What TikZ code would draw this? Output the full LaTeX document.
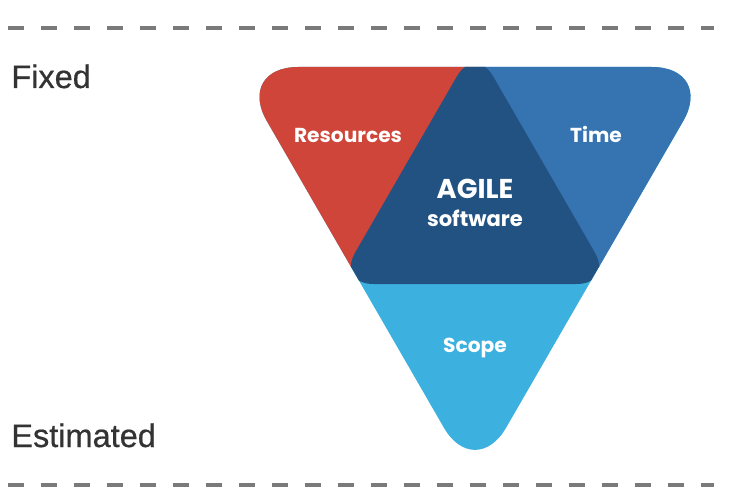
\documentclass[tikz,border=0pt]{standalone}
\usepackage{fontspec}
\setmainfont{Liberation Sans}
\newfontfamily\labelfont{Poppins}
\usepackage{tikz}
\definecolor{resred}{HTML}{CF4539}
\definecolor{timeblue}{HTML}{3573B1}
\definecolor{scopeblue}{HTML}{3CB1E0}
\definecolor{agiledark}{HTML}{225282}
\definecolor{textgray}{HTML}{333333}
\definecolor{dashgray}{HTML}{7A7A7A}

\begin{document}
\begin{tikzpicture}[x=0.02cm,y=-0.02cm]
	\tikzstyle{part}=[anchor=base,text=white,font=\labelfont\bfseries\fontsize{11.5}{14}\selectfont]
	\tikzstyle{level}=[anchor=base west,inner sep=0pt,text=textgray,font=\addfontfeature{FakeBold=0.6}\fontsize{18.5}{22}\selectfont]
	\tikzstyle{bound}=[draw=dashgray,line width=2pt,dash pattern=on 0.33cm off 0.33cm]
	\useasboundingbox (0,0) rectangle (742,493);
	\coordinate (o1) at (235.6,67);
	\coordinate (o2) at (714.4,67);
	\coordinate (o3) at (475,481.6);
	\coordinate (i1) at (475,45);
	\coordinate (i2) at (613,284);
	\coordinate (i3) at (337,284);
	\begin{scope}
		\clip[rounded corners=1.25cm] (o1) -- (o2) -- (o3) -- cycle;
		\fill[scopeblue] (200,40) rectangle (740,493);
		\fill[resred] (200,40) rectangle (475,268);
		\fill[timeblue] (475,40) rectangle (740,268);
		\fill[agiledark,rounded corners=0.73cm] (i1) -- (i2) -- (i3) -- cycle;
	\end{scope}
	\node[part](res) at (348,142) {Resources};
	\node[part](time) at (596,142) {Time};
	\node[part,font=\labelfont\bfseries\fontsize{15.5}{18}\selectfont](agile) at (475,198) {AGILE};
	\node[part,font=\labelfont\bfseries\fontsize{12}{14}\selectfont](soft) at (475,226) {software};
	\node[part](scope) at (475,352) {Scope};
	\node[level](fixed) at (11,88) {Fixed};
	\node[level](est) at (11,447) {Estimated};
	\draw[bound] (8,28) -- (714,28);
	\draw[bound] (8,485) -- (714,485);
\end{tikzpicture}
\end{document}
